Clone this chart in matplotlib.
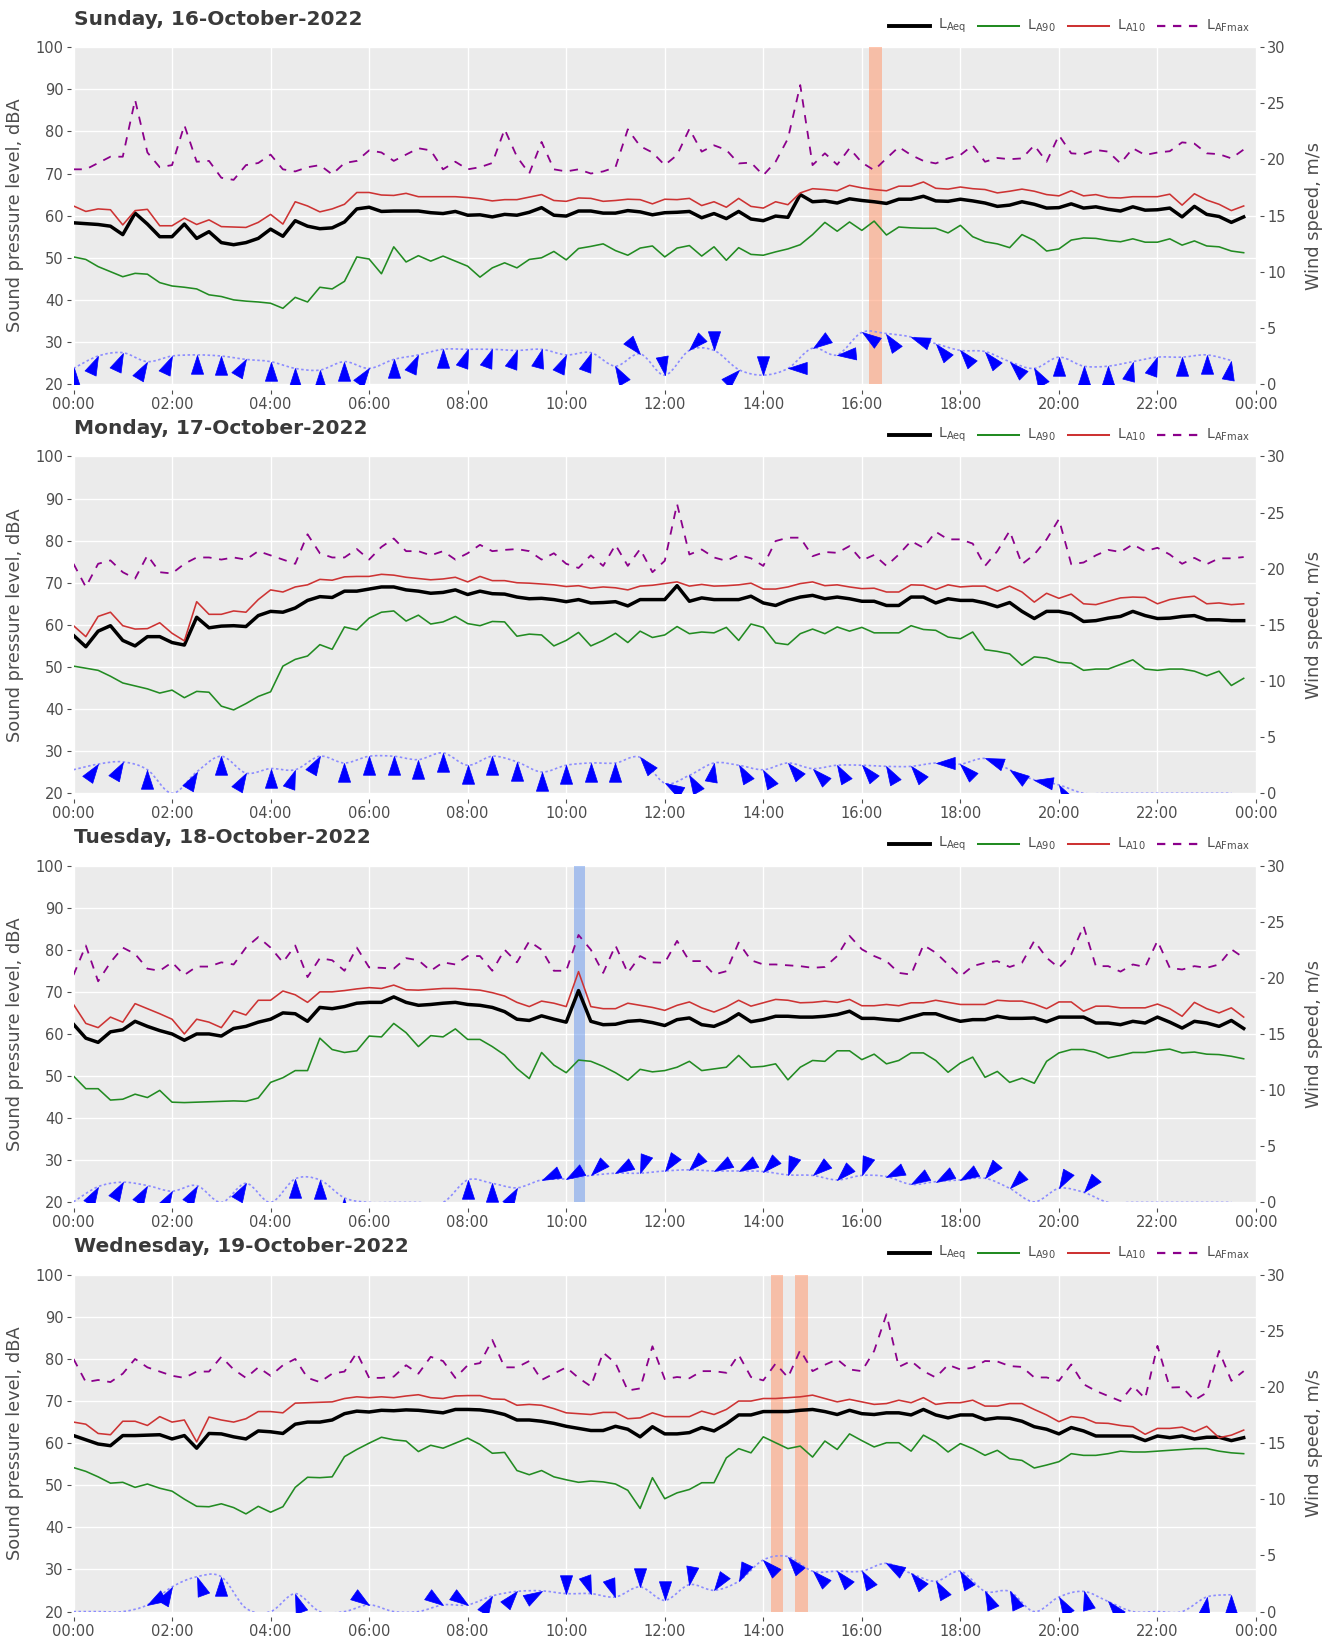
import numpy as np
import matplotlib
matplotlib.use("Agg")
import matplotlib.pyplot as plt
from matplotlib.path import Path
from matplotlib.patches import PathPatch
from matplotlib.markers import MarkerStyle
from matplotlib.transforms import Affine2D
from matplotlib.lines import Line2D

plt.rcParams["font.family"] = ["DejaVu Sans"]
plt.rcParams["lines.scale_dashes"] = False
plt.rcParams["mathtext.default"] = "regular"

# ---------------------------------------------------------------- data
hours = np.arange(96) * 0.25          # 15-minute noise intervals
wind_hours = np.arange(48) * 0.5      # 30-minute wind records
nan = np.nan

titles = ["Sunday, 16-October-2022", "Monday, 17-October-2022",
          "Tuesday, 18-October-2022", "Wednesday, 19-October-2022"]

sun_laeq = [58.3, 58.1, 57.9, 57.5, 55.5, 60.6, 58.0, 55.0, 55.0, 58.0, 54.6, 56.2,
            53.6, 53.1, 53.6, 54.6, 56.8, 55.1, 58.8, 57.5, 56.9, 57.1, 58.5, 61.6,
            62.0, 61.0, 61.1, 61.1, 61.1, 60.7, 60.5, 61.0, 60.1, 60.2, 59.7, 60.3,
            60.1, 60.8, 61.9, 60.1, 59.9, 61.1, 61.1, 60.6, 60.6, 61.2, 60.9, 60.2,
            60.7, 60.8, 61.0, 59.5, 60.5, 59.3, 61.0, 59.2, 58.8, 59.9, 59.6, 65.0,
            63.3, 63.5, 63.0, 64.0, 63.6, 63.3, 62.9, 63.9, 63.9, 64.6, 63.5, 63.4,
            63.9, 63.5, 63.0, 62.2, 62.5, 63.3, 62.7, 61.8, 61.9, 62.8, 61.8, 62.1,
            61.5, 61.1, 62.1, 61.3, 61.4, 61.8, 59.7, 62.2, 60.3, 59.8, 58.4, 59.7]
sun_la10 = [62.3, 61.0, 61.6, 61.4, 57.8, 61.2, 61.5, 57.6, 57.6, 59.4, 57.9, 59.0,
            57.4, 57.3, 57.2, 58.4, 60.3, 58.0, 63.3, 62.3, 60.9, 61.6, 62.7, 65.5,
            65.5, 64.9, 64.8, 65.3, 64.5, 64.5, 64.5, 64.5, 64.3, 64.0, 63.5, 63.8,
            63.8, 64.4, 65.0, 63.6, 63.4, 64.2, 64.1, 63.4, 63.6, 63.9, 63.8, 62.8,
            63.9, 63.8, 64.1, 62.4, 63.3, 62.0, 64.1, 62.2, 61.8, 63.3, 62.6, 65.4,
            66.4, 66.2, 65.9, 67.2, 66.6, 66.2, 65.9, 67.0, 67.0, 68.0, 66.5, 66.3,
            66.8, 66.4, 66.2, 65.4, 65.8, 66.3, 65.8, 65.0, 64.7, 65.9, 64.7, 65.0,
            64.3, 64.2, 64.5, 64.5, 64.5, 65.1, 62.5, 65.2, 63.7, 62.7, 61.2, 62.3]
sun_la90 = [50.2, 49.6, 47.9, 46.7, 45.5, 46.3, 46.1, 44.1, 43.3, 43.0, 42.6, 41.2,
            40.8, 40.0, 39.7, 39.5, 39.2, 38.0, 40.6, 39.5, 43.0, 42.6, 44.4, 50.2,
            49.7, 46.2, 52.6, 49.0, 50.5, 49.2, 50.4, 49.2, 48.0, 45.4, 47.6, 48.8,
            47.6, 49.6, 50.0, 51.5, 49.5, 52.2, 52.7, 53.3, 51.7, 50.6, 52.3, 52.8,
            50.2, 52.3, 52.9, 50.4, 52.6, 49.4, 52.4, 50.8, 50.6, 51.4, 52.1, 53.1,
            55.5, 58.4, 56.3, 58.5, 56.5, 58.7, 55.4, 57.3, 57.1, 57.0, 57.0, 55.9,
            57.7, 55.0, 53.8, 53.3, 52.4, 55.5, 54.1, 51.6, 52.1, 54.2, 54.7, 54.6,
            54.1, 53.8, 54.5, 53.7, 53.7, 54.5, 53.0, 54.0, 52.8, 52.6, 51.6, 51.2]
sun_lafmax = [71.0, 71.0, 72.5, 74.0, 74.0, 87.5, 75.0, 71.5, 72.0, 81.5, 72.8, 73.0,
              69.0, 68.5, 72.0, 72.5, 74.5, 71.0, 70.5, 71.5, 72.0, 69.8, 72.5, 73.0,
              75.5, 75.0, 73.0, 74.5, 76.0, 75.5, 71.0, 72.8, 71.0, 71.5, 72.5, 80.5,
              74.0, 70.0, 77.5, 71.0, 70.5, 71.0, 70.0, 70.5, 71.5, 80.5, 76.5, 75.0,
              72.0, 74.4, 80.6, 75.2, 76.7, 75.6, 72.4, 72.6, 69.6, 72.8, 78.3, 91.0,
              72.0, 74.8, 72.1, 76.0, 72.6, 70.8, 73.6, 76.3, 74.4, 73.0, 72.4, 73.6,
              74.4, 76.7, 72.8, 73.7, 73.4, 73.6, 76.7, 72.8, 79.1, 74.8, 74.6, 75.6,
              75.2, 72.4, 76.0, 74.4, 75.0, 75.3, 77.4, 77.1, 74.8, 74.6, 73.6, 75.7]
sun_wind = [1.4, 2.5, 2.8, 2.0, 2.5, 2.6, 2.5, 2.2, 2.0, 1.4, 1.25, 2.0,
            1.4, 2.2, 2.6, 3.1, 3.1, 3.1, 3.0, 3.1, 2.6, 2.8, 1.6, 2.7,
            0.8, 3.0, 3.0, 1.3, 0.8, 1.4, 3.2, 2.6, 4.6, 4.5, 4.2, 3.6,
            3.0, 2.9, 2.0, 1.4, 2.4, 1.6, 1.6, 2.0, 2.4, 2.4, 2.6, 2.1]
sun_dir = [0, 25, 25, 30, 25, 0, 0, 30, 0, 0, 0, 0,
           35, 0, 25, 0, 20, 20, 20, 15, 25, 20, 330, 140,
           170, 225, 180, 45, 180, 270, 235, 265, 305, 325, 290, 320,
           320, 320, 315, 330, 0, 0, 0, 15, 20, 0, 0, 10]
sun_bands = [(16.15, 16.40)]

mon_laeq = [57.5, 54.8, 58.5, 59.8, 56.3, 55.0, 57.2, 57.2, 55.8, 55.2, 61.8, 59.3,
            59.7, 59.8, 59.6, 62.2, 63.2, 63.0, 64.0, 65.8, 66.7, 66.5, 68.0, 68.0,
            68.5, 69.0, 69.0, 68.3, 68.0, 67.5, 67.7, 68.3, 67.2, 68.0, 67.4, 67.3,
            66.6, 66.2, 66.3, 66.0, 65.5, 66.0, 65.2, 65.3, 65.5, 64.5, 66.0, 66.0,
            66.0, 69.3, 65.6, 66.4, 66.0, 66.0, 66.0, 66.8, 65.2, 64.6, 65.8, 66.6,
            67.0, 66.2, 66.6, 66.2, 65.6, 65.6, 64.6, 64.6, 66.6, 66.6, 65.2, 66.2,
            65.8, 65.8, 65.2, 64.3, 65.3, 63.2, 61.5, 63.2, 63.2, 62.6, 60.8, 61.0,
            61.6, 62.0, 63.2, 62.2, 61.5, 61.6, 62.0, 62.2, 61.2, 61.2, 61.0, 61.0]
mon_la10 = [59.8, 57.2, 62.0, 63.0, 59.8, 59.0, 59.1, 60.5, 58.0, 56.2, 65.5, 62.5,
            62.5, 63.3, 63.0, 66.0, 68.3, 67.8, 69.0, 69.5, 70.8, 70.6, 71.4, 71.5,
            71.5, 72.0, 71.8, 71.3, 71.0, 70.7, 70.9, 71.3, 70.2, 71.5, 70.5, 70.5,
            70.0, 69.9, 69.7, 69.5, 69.1, 69.3, 68.7, 69.0, 68.8, 68.3, 69.2, 69.4,
            69.8, 70.2, 69.2, 69.6, 69.2, 69.3, 69.5, 69.9, 68.5, 68.5, 69.0, 69.8,
            70.2, 69.3, 69.5, 69.0, 68.6, 68.7, 67.8, 67.8, 69.5, 69.4, 68.4, 69.5,
            69.0, 69.2, 69.2, 68.0, 69.2, 67.8, 65.4, 67.5, 66.3, 67.3, 65.0, 64.8,
            65.6, 66.4, 66.6, 66.5, 65.0, 66.0, 66.5, 66.8, 65.0, 65.2, 64.8, 65.0]
mon_la90 = [50.2, 49.7, 49.2, 47.8, 46.2, 45.5, 44.8, 43.8, 44.5, 42.7, 44.2, 44.0,
            40.7, 39.8, 41.3, 43.0, 44.1, 50.2, 51.8, 52.6, 55.3, 54.2, 59.5, 58.8,
            61.6, 63.0, 63.3, 60.9, 62.3, 60.2, 60.7, 62.0, 60.3, 59.8, 60.8, 60.7,
            57.3, 57.8, 57.6, 55.0, 56.3, 58.2, 55.0, 56.3, 58.0, 55.8, 58.5, 57.0,
            57.6, 59.6, 57.9, 58.3, 58.1, 59.4, 56.3, 60.2, 59.4, 55.7, 55.3, 57.9,
            59.0, 57.9, 59.5, 58.5, 59.4, 58.1, 58.1, 58.1, 59.8, 58.9, 58.7, 57.1,
            56.7, 58.3, 54.1, 53.7, 53.1, 50.4, 52.4, 52.1, 51.1, 50.9, 49.2, 49.5,
            49.5, 50.6, 51.7, 49.5, 49.2, 49.5, 49.5, 49.0, 47.9, 49.0, 45.6, 47.3]
mon_lafmax = [74.5, 69.0, 74.5, 75.3, 72.5, 71.0, 76.5, 72.5, 72.2, 74.5, 76.0, 76.0,
              75.5, 76.0, 75.5, 77.5, 76.5, 75.5, 74.5, 81.5, 77.0, 76.0, 76.0, 78.0,
              75.5, 78.5, 80.5, 77.5, 77.5, 76.5, 77.5, 75.5, 77.0, 79.0, 77.5, 77.8,
              78.0, 77.5, 75.5, 77.0, 74.5, 73.5, 76.5, 74.0, 79.0, 74.0, 78.0, 72.5,
              75.2, 88.7, 76.7, 77.9, 76.0, 75.2, 76.6, 75.8, 74.0, 79.9, 80.7, 80.7,
              76.3, 77.3, 77.1, 78.7, 75.3, 76.6, 74.0, 76.7, 79.9, 78.3, 82.1, 80.3,
              80.3, 79.3, 74.0, 77.5, 82.3, 74.4, 76.7, 80.3, 85.1, 74.4, 74.8, 76.5,
              77.8, 77.3, 79.1, 77.5, 78.3, 76.7, 74.5, 75.9, 74.4, 75.8, 75.8, 76.1]
mon_wind = [2.1, 2.6, 2.8, 2.1, 0.0, 1.9, 3.3, 1.8, 2.2, 2.1, 3.3, 2.7,
            3.3, 3.3, 3.0, 3.6, 2.5, 3.3, 2.8, 1.9, 2.5, 2.7, 2.7, 3.2,
            0.9, 1.6, 2.7, 2.5, 2.1, 2.7, 2.2, 2.5, 2.5, 2.4, 2.4, 2.7,
            2.6, 3.1, 2.1, 1.2, 0.75, 0.0, 0.0, 0.0, 0.0, 0.0, 0.0, 0.0]
mon_dir = [nan, 35, 30, 0, nan, 30, 0, 30, 0, 20, 30, 0,
           0, 0, 0, 0, 0, 0, 0, 0, 0, 0, 0, 320,
           300, 330, 10, 330, 330, 320, 315, 330, 320, 330, 320, 270,
           315, 290, 305, 280, 330, nan, nan, nan, nan, nan, nan, nan]
mon_bands = []

tue_laeq = [62.3, 59.0, 58.0, 60.5, 61.0, 63.0, 61.8, 60.8, 60.0, 58.5, 60.0, 60.0,
            59.5, 61.3, 61.8, 62.8, 63.5, 65.0, 64.8, 63.0, 66.3, 66.0, 66.5, 67.3,
            67.5, 67.5, 68.8, 67.5, 66.8, 67.0, 67.3, 67.5, 67.0, 66.8, 66.3, 65.3,
            63.5, 63.2, 64.3, 63.5, 62.8, 70.3, 63.0, 62.2, 62.3, 63.0, 63.2, 62.7,
            62.0, 63.4, 63.8, 62.2, 61.8, 63.0, 64.8, 62.9, 63.4, 64.2, 64.2, 64.0,
            64.0, 64.2, 64.6, 65.4, 63.7, 63.7, 63.4, 63.2, 64.0, 64.8, 64.8, 63.8,
            63.0, 63.4, 63.4, 64.2, 63.7, 63.7, 63.8, 62.9, 64.0, 64.0, 64.0, 62.6,
            62.6, 62.2, 63.0, 62.6, 64.0, 62.8, 61.4, 63.0, 62.6, 61.8, 63.2, 61.3]
tue_la10 = [67.0, 62.5, 61.5, 64.0, 62.8, 67.2, 66.0, 64.8, 63.5, 60.0, 63.5, 62.8,
            61.5, 65.5, 64.5, 68.0, 68.0, 70.2, 69.3, 67.5, 70.0, 70.0, 70.3, 70.7,
            71.0, 70.8, 71.6, 70.5, 70.4, 70.6, 70.8, 70.8, 70.6, 70.4, 69.8, 69.0,
            67.5, 66.5, 67.8, 67.3, 66.5, 74.8, 66.5, 66.0, 66.0, 67.3, 66.8, 66.3,
            65.6, 66.8, 67.6, 66.2, 65.2, 66.4, 68.0, 66.6, 67.4, 68.2, 68.0, 67.4,
            67.5, 67.8, 67.5, 68.2, 66.7, 66.7, 67.0, 66.7, 67.4, 67.4, 68.0, 67.5,
            67.0, 67.0, 67.0, 68.0, 67.8, 67.8, 67.1, 66.0, 67.6, 67.6, 65.4, 66.6,
            66.6, 66.2, 66.2, 66.2, 67.1, 66.0, 64.2, 67.5, 66.0, 65.0, 66.2, 64.0]
tue_la90 = [50.0, 47.0, 47.0, 44.3, 44.5, 45.7, 44.9, 46.6, 43.8, 43.7, 43.8, 43.9,
            44.0, 44.1, 44.0, 44.8, 48.5, 49.6, 51.3, 51.3, 59.0, 56.3, 55.6, 56.0,
            59.5, 59.3, 62.5, 60.3, 57.0, 59.6, 59.3, 61.2, 58.7, 58.7, 57.0, 55.0,
            51.8, 49.4, 55.6, 52.6, 50.8, 53.8, 53.5, 52.3, 50.8, 49.0, 51.6, 51.0,
            51.3, 52.1, 53.5, 51.3, 51.7, 52.1, 54.9, 52.1, 52.3, 52.9, 49.1, 52.1,
            53.7, 53.5, 56.0, 56.0, 53.9, 55.2, 52.9, 53.7, 55.5, 55.5, 53.7, 50.9,
            53.1, 54.5, 49.7, 51.1, 48.5, 49.5, 48.3, 53.5, 55.5, 56.3, 56.3, 55.6,
            54.3, 54.9, 55.6, 55.6, 56.1, 56.4, 55.5, 55.7, 55.2, 55.1, 54.7, 54.1]
tue_lafmax = [74.0, 81.0, 72.5, 77.0, 80.5, 79.0, 75.5, 75.0, 77.0, 74.0, 76.0, 76.0,
              77.0, 76.5, 80.5, 83.0, 80.5, 77.0, 81.0, 73.5, 78.0, 77.5, 75.0, 80.5,
              75.8, 75.7, 75.5, 78.0, 77.5, 75.0, 77.0, 76.5, 78.5, 78.5, 75.0, 80.0,
              77.0, 82.0, 80.0, 75.0, 75.0, 83.5, 80.0, 74.5, 81.0, 74.5, 78.5, 77.0,
              76.9, 82.1, 77.3, 77.3, 74.1, 74.9, 81.7, 77.5, 76.5, 76.5, 76.3, 76.1,
              75.7, 75.9, 78.5, 83.3, 80.1, 78.5, 77.3, 74.5, 74.1, 81.1, 79.3, 76.5,
              73.7, 76.1, 76.9, 77.3, 75.9, 76.9, 82.1, 78.1, 75.7, 78.9, 85.6, 76.1,
              76.1, 74.8, 76.5, 75.9, 82.1, 75.7, 75.3, 76.1, 75.7, 76.5, 80.1, 78.1]
tue_wind = [0.05, 1.4, 1.8, 1.5, 1.0, 1.5, 0.0, 1.7, 0.0, 2.1, 2.0, 0.4,
            0.0, 0.0, 0.0, 0.0, 2.0, 1.7, 1.3, 2.0, 2.1, 2.4, 2.6, 2.6,
            2.8, 2.9, 2.8, 2.8, 2.75, 2.45, 2.4, 2.0, 2.4, 2.3, 1.6, 1.85,
            2.0, 2.15, 1.25, 0.05, 1.25, 0.9, 0.0, 0.0, 0.0, 0.0, 0.0, 0.0]
tue_dir = [nan, 30, 30, 30, 30, 30, nan, 30, nan, 0, 0, 0,
           nan, nan, nan, nan, 0, 0, 30, 245, 240, 225, 240, 200,
           215, 225, 240, 240, 225, 200, 230, 225, 200, 245, 240, 240,
           240, 220, 225, nan, 210, 220, nan, nan, nan, nan, nan, nan]
tue_bands = [(10.15, 10.38)]

wed_laeq = [61.8, 60.8, 59.8, 59.4, 61.8, 61.8, 61.9, 62.0, 61.0, 61.8, 58.8, 62.3,
            62.2, 61.5, 61.0, 62.9, 62.7, 62.3, 64.5, 65.0, 65.0, 65.5, 67.0, 67.6,
            67.4, 67.8, 67.7, 67.9, 67.8, 67.5, 67.2, 68.0, 68.0, 67.9, 67.5, 66.8,
            65.5, 65.5, 65.2, 64.7, 64.0, 63.5, 63.0, 63.0, 64.0, 63.3, 61.5, 63.9,
            62.2, 62.2, 62.5, 63.7, 62.9, 64.6, 66.7, 66.7, 67.5, 67.5, 67.5, 67.8,
            68.0, 67.5, 66.8, 67.8, 67.0, 66.8, 67.2, 67.2, 66.7, 68.0, 66.7, 66.0,
            66.7, 66.7, 65.6, 66.0, 65.9, 65.2, 63.9, 63.3, 62.2, 63.7, 62.9, 61.7,
            61.7, 61.7, 61.7, 60.6, 61.7, 61.3, 61.7, 61.0, 61.4, 61.4, 60.6, 61.3]
wed_la10 = [65.0, 64.5, 62.3, 62.0, 65.2, 65.2, 64.2, 66.3, 65.0, 65.5, 60.3, 66.2,
            65.5, 65.0, 65.8, 67.5, 67.5, 67.2, 69.5, 69.6, 69.7, 69.8, 70.6, 71.0,
            70.8, 71.0, 70.8, 71.2, 71.5, 70.8, 70.6, 71.2, 71.3, 71.3, 70.5, 70.4,
            69.0, 69.2, 69.0, 68.2, 67.2, 67.0, 66.8, 67.3, 67.3, 65.8, 66.0, 67.2,
            66.3, 66.3, 66.3, 67.6, 66.8, 68.0, 70.0, 70.0, 70.6, 70.6, 70.8, 71.0,
            71.4, 70.6, 69.8, 70.4, 69.8, 69.2, 69.4, 70.2, 69.6, 70.8, 69.2, 69.6,
            69.6, 70.2, 68.8, 68.8, 69.4, 69.4, 68.0, 66.7, 65.1, 66.3, 66.0, 64.8,
            64.7, 64.2, 63.9, 62.1, 63.5, 63.5, 63.8, 62.7, 64.0, 61.3, 61.9, 63.1]
wed_la90 = [54.2, 53.3, 52.0, 50.5, 50.7, 49.5, 50.3, 49.3, 48.6, 46.7, 45.0, 44.9,
            45.6, 44.7, 43.2, 45.0, 43.6, 44.9, 49.5, 51.9, 51.8, 52.0, 56.8, 58.5,
            60.0, 61.4, 60.8, 60.5, 58.0, 59.5, 58.8, 60.0, 61.2, 59.7, 57.6, 57.8,
            53.5, 52.5, 53.5, 52.0, 51.3, 50.7, 51.0, 50.8, 50.3, 48.8, 44.5, 51.8,
            46.8, 48.2, 49.0, 50.6, 50.6, 56.5, 58.7, 57.7, 61.5, 60.1, 58.7, 59.3,
            56.7, 60.5, 58.5, 62.2, 60.6, 59.1, 60.1, 60.1, 58.1, 61.9, 60.3, 57.9,
            59.9, 58.7, 57.1, 58.3, 56.3, 55.9, 54.1, 54.8, 55.6, 57.5, 57.1, 57.1,
            57.5, 58.1, 57.9, 57.9, 58.1, 58.3, 58.5, 58.7, 58.7, 58.1, 57.7, 57.5]
wed_lafmax = [80.0, 74.5, 75.0, 74.5, 76.5, 80.0, 78.0, 77.0, 76.0, 75.5, 77.0, 77.0,
              80.5, 77.5, 75.5, 78.0, 76.0, 78.5, 80.0, 75.5, 74.5, 76.5, 77.0, 81.5,
              75.5, 75.5, 75.8, 78.5, 76.5, 80.5, 79.5, 75.5, 78.5, 79.0, 84.5, 78.0,
              78.0, 79.5, 75.0, 76.5, 78.0, 75.5, 73.5, 81.5, 79.0, 72.5, 73.0, 83.0,
              75.2, 75.7, 75.4, 77.1, 77.1, 76.7, 81.0, 75.7, 74.9, 78.9, 75.6, 82.1,
              77.1, 78.6, 79.9, 77.5, 77.1, 81.9, 90.6, 78.1, 79.5, 77.1, 75.6, 78.6,
              77.5, 77.9, 79.5, 79.4, 78.3, 78.1, 75.6, 75.6, 74.8, 78.7, 74.0, 72.4,
              71.2, 70.0, 73.6, 70.6, 83.1, 73.2, 73.3, 70.2, 72.0, 81.9, 74.8, 77.1]
wed_wind = [0.0, 0.0, 0.0, 0.6, 2.2, 3.1, 3.1, 0.3, 0.0, 1.6, 0.0, 0.0,
            0.6, 0.0, 0.0, 0.6, 0.6, 1.4, 1.8, 1.85, 1.6, 1.6, 1.3, 2.2,
            1.0, 2.4, 1.9, 2.7, 4.6, 4.9, 3.6, 3.6, 3.6, 4.3, 3.4, 2.7,
            3.6, 1.8, 1.8, 0.0, 1.3, 1.8, 0.9, 0.0, 0.0, 0.0, 1.3, 1.5]
wed_dir = [nan, nan, nan, 240, 30, 340, 0, nan, nan, 340, nan, nan,
           125, nan, nan, 125, 125, 30, 40, 60, 180, 160, 160, 180,
           180, 190, 215, 205, 315, 320, 315, 320, 330, 300, 320, 330,
           330, 335, 335, nan, 330, 345, 320, nan, nan, nan, 10, 0]
wed_bands = [(14.15, 14.40), (14.65, 14.90)]

days = [
    dict(laeq=sun_laeq, la90=sun_la90, la10=sun_la10, lafmax=sun_lafmax,
         wind=sun_wind, wdir=sun_dir, bands=sun_bands, band_color="#FFA07A", band_alpha=0.6),
    dict(laeq=mon_laeq, la90=mon_la90, la10=mon_la10, lafmax=mon_lafmax,
         wind=mon_wind, wdir=mon_dir, bands=mon_bands, band_color="#FFA07A", band_alpha=0.6),
    dict(laeq=tue_laeq, la90=tue_la90, la10=tue_la10, lafmax=tue_lafmax,
         wind=tue_wind, wdir=tue_dir, bands=tue_bands, band_color="#6495ED", band_alpha=0.5),
    dict(laeq=wed_laeq, la90=wed_la90, la10=wed_la10, lafmax=wed_lafmax,
         wind=wed_wind, wdir=wed_dir, bands=wed_bands, band_color="#FFA07A", band_alpha=0.6),
]

# ---------------------------------------------------------------- styles
C_LAEQ, C_LA90, C_LA10, C_LAFMAX = "#000000", "#228B22", "#CD3333", "#8B008B"
C_WIND_LINE, C_ARROW = "#8C8CFF", "#0000FF"
C_TEXT = "#4D4D4D"
series_style = [
    ("laeq", C_LAEQ, 2.5, "-"),
    ("la90", C_LA90, 1.15, "-"),
    ("la10", C_LA10, 1.15, "-"),
    ("lafmax", C_LAFMAX, 1.3, (0, (6.0, 5.5))),
]
legend_labels = [r"L$_{Aeq}$", r"L$_{A90}$", r"L$_{A10}$", r"L$_{AFmax}$"]

W, H = 1338, 1645
fig = plt.figure(figsize=(W / 100, H / 100), dpi=100)

x_left, x_right = 73.5, 1256.0
plot_h = 336.9
tops = [47.2, 456.4, 865.5, 1274.7]

# arrow head: tip at the origin, body trailing behind it
arrow_path = Path([(0, 0), (-0.618, -1.902), (0.618, -1.902), (0, 0)],
                  [Path.MOVETO, Path.LINETO, Path.LINETO, Path.CLOSEPOLY])


def smooth_path(x, y):
    """Cubic Bezier curve passing through every (x, y) point."""
    pts = np.column_stack([x, y]).astype(float)
    n = len(pts)
    verts, codes = [pts[0]], [Path.MOVETO]
    for i in range(n - 1):
        p0 = pts[i - 1] if i > 0 else pts[i]
        p1, p2 = pts[i], pts[i + 1]
        p3 = pts[i + 2] if i + 2 < n else pts[i + 1]
        verts += [p1 + (p2 - p0) / 6.0, p2 - (p3 - p1) / 6.0, p2]
        codes += [Path.CURVE4] * 3
    return Path(verts, codes)


def fy(py):
    return 1 - py / H


xtick_pos = np.arange(0, 25, 2)
xtick_lab = ["%02d:00" % (h % 24) for h in xtick_pos]

for k, (day, top) in enumerate(zip(days, tops)):
    ax = fig.add_axes([x_left / W, fy(top + plot_h), (x_right - x_left) / W, plot_h / H])
    ax.set_facecolor("#EBEBEB")
    ax.set_xlim(0, 24)
    ax.set_ylim(20, 100)
    ax.set_axisbelow(True)
    ax.grid(True, color="white", linewidth=1.0)
    for s in ax.spines.values():
        s.set_visible(False)
    ax.spines["left"].set_position(("outward", 2))
    ax.spines["bottom"].set_position(("outward", 4))
    ax.set_yticks(np.arange(20, 101, 10))
    ax.set_xticks(xtick_pos)
    ax.set_xticklabels(xtick_lab)
    ax.tick_params(axis="both", colors=C_TEXT, labelsize=10.5, length=3, width=0.8, pad=2)

    for (s, e) in day["bands"]:
        ax.axvspan(s, e, color=day["band_color"], alpha=day["band_alpha"], lw=0, zorder=1)

    for key, col, lw, ls in series_style:
        ax.plot(hours, day[key], color=col, lw=lw, linestyle=ls, zorder=2,
                solid_joinstyle="round", dash_capstyle="butt")

    axw = ax.twinx()
    axw.set_ylim(0, 30)
    axw.set_xlim(0, 24)
    for s in axw.spines.values():
        s.set_visible(False)
    axw.spines["right"].set_position(("outward", 3))
    axw.set_yticks(np.arange(0, 31, 5))
    axw.tick_params(axis="y", colors=C_TEXT, labelsize=10.5, length=3, width=0.8, pad=2)

    wind = np.array(day["wind"], dtype=float)
    wdir = np.array(day["wdir"], dtype=float)
    axw.add_patch(PathPatch(smooth_path(wind_hours, wind), fill=False,
                            edgecolor=C_WIND_LINE, lw=1.2, linestyle=(0, (1.8, 1.8)),
                            zorder=3))
    for t, v, d in zip(wind_hours, wind, wdir):
        if np.isnan(d):
            continue
        mk = MarkerStyle(arrow_path, transform=Affine2D().rotate_deg(-d))
        axw.plot([t], [v], linestyle="none", marker=mk, markersize=27,
                 color=C_ARROW, markeredgecolor=C_ARROW, markeredgewidth=0.5, zorder=4)

    # title and axis titles
    fig.text(x_left / W, fy(top - 28), titles[k], fontsize=14.5, fontweight="bold",
             color="#3A3A3A", ha="left", va="center")
    mid = fy(top + plot_h / 2)
    fig.text(15 / W, mid, "Sound pressure level, dBA", rotation=90, fontsize=12.8,
             color=C_TEXT, ha="center", va="center")
    fig.text(1314 / W, mid, "Wind speed, m/s", rotation=90, fontsize=12.8,
             color=C_TEXT, ha="center", va="center")

    # legend row above the panel
    ly = fy(top - 21.5)
    for j, ((key, col, lw, ls), lab) in enumerate(zip(series_style, legend_labels)):
        x0 = 889 + j * 89.3
        fig.add_artist(Line2D([x0 / W, (x0 + 41) / W], [ly, ly], transform=fig.transFigure,
                              color=col, lw=lw + 0.3, linestyle=ls))
        fig.text((x0 + 49) / W, ly, lab, fontsize=10.2, color=C_TEXT, ha="left", va="center")

fig.savefig("out.png", dpi=100, facecolor="white")
